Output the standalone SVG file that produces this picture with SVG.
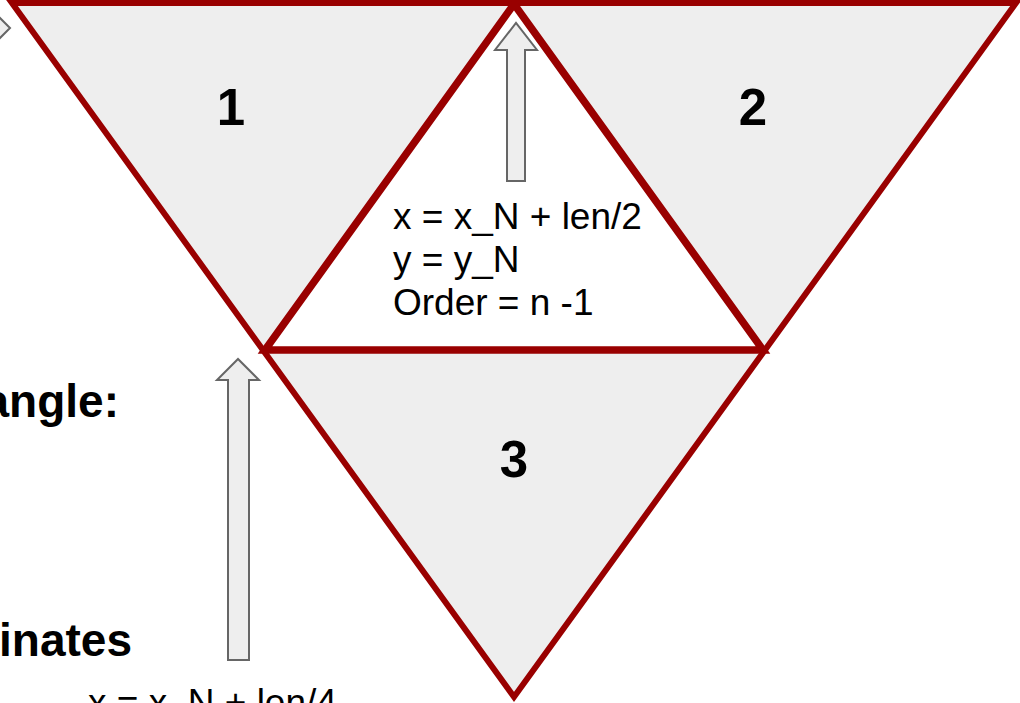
<svg xmlns="http://www.w3.org/2000/svg" width="1020" height="703" viewBox="0 0 1020 703">
<style>
.tri{fill:#eeeeee;stroke:#990000;stroke-width:6;stroke-linejoin:miter}
.inner{fill:#ffffff;stroke:#990000;stroke-width:7.5;stroke-linejoin:miter}
.arrow{fill:#eeeeee;stroke:#666666;stroke-width:2;stroke-linejoin:miter}
.num{font-family:"Liberation Sans",Arial,sans-serif;font-weight:bold;font-size:51px;fill:#000;text-anchor:middle}
.head{font-family:"Liberation Sans",Arial,sans-serif;font-weight:bold;font-size:46px;fill:#000}
.body{font-family:"Liberation Sans",Arial,sans-serif;font-size:37px;fill:#000}
</style>
<rect width="1020" height="703" fill="#ffffff"/>
<g id="outer-triangle">
<polygon class="tri" points="12,3 1016,3 514,697"/>
</g>
<g id="inner-triangle">
<polygon class="inner" points="514,4 265,350 763,350"/>
</g>
<g id="label-1"><text class="num" x="231" y="125">1</text></g>
<g id="label-2"><text class="num" x="753" y="125">2</text></g>
<g id="label-3"><text class="num" x="514" y="477">3</text></g>
<g id="inner-text">
<text class="body" x="393" y="229">x = x_N + len/2</text>
<text class="body" x="393" y="272">y = y_N</text>
<text class="body" x="393" y="315">Order = n -1</text>
</g>
<g id="left-text">
<text class="head" x="119" y="417" text-anchor="end">angle:</text>
<text class="head" x="132" y="656" text-anchor="end">inates</text>
<text class="body" x="88" y="715">x = x_N + len/4</text>
</g>
<g id="connectors">
<polygon class="arrow" points="507,181 507,50 495,50 516,23 537,50 525,50 525,181"/>
<polygon class="arrow" points="228,660 228,380 217,380 238,359 259,380 249,380 249,660"/>
<polygon class="arrow" points="-60,22 -8,22 -8,10 10,28 -8,46 -8,34 -60,34"/>
</g>
</svg>
